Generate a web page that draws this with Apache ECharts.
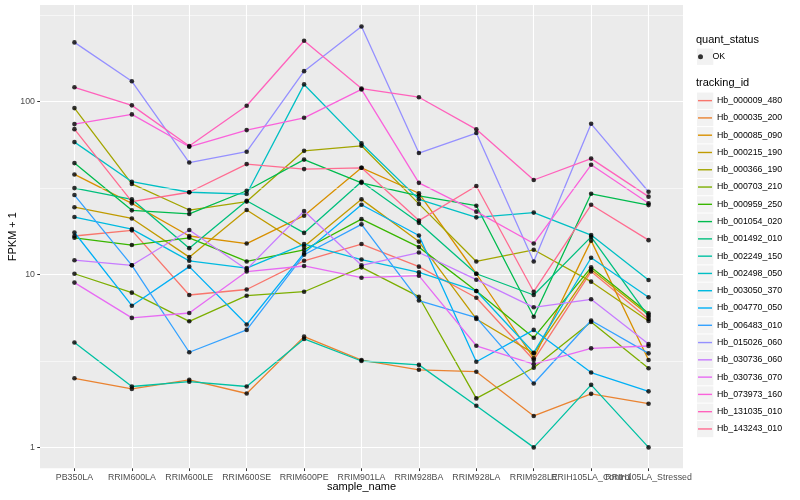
<!DOCTYPE html>
<html>
<head>
<meta charset="utf-8">
<title>FPKM + 1 by sample</title>
<script src="https://cdn.jsdelivr.net/npm/echarts@6.0.0/dist/echarts.min.js"></script>
<style>
html,body{margin:0;padding:0;background:#ffffff;}
#chart{width:800px;height:500px;}
</style>
</head>
<body>
<div id="chart"></div>
<script>
// ---------- data ----------
const categories = ['PB350LA','RRIM600LA','RRIM600LE','RRIM600SE','RRIM600PE','RRIM901LA','RRIM928BA','RRIM928LA','RRIM928LE','RRIH105LA_Control','RRIH105LA_Stressed'];
const trackingIds = ['Hb_000009_480','Hb_000035_200','Hb_000085_090','Hb_000215_190','Hb_000366_190','Hb_000703_210','Hb_000959_250','Hb_001054_020','Hb_001492_010','Hb_002249_150','Hb_002498_050','Hb_003050_370','Hb_004770_050','Hb_006483_010','Hb_015026_060','Hb_030736_060','Hb_030736_070','Hb_073973_160','Hb_131035_010','Hb_143243_010'];
const seriesColors = ['#F8766D','#EA8331','#D89000','#C09B00','#A3A500','#7CAE00','#39B600','#00BB4E','#00BF7D','#00C1A3','#00BFC4','#00BAE0','#00B0F6','#35A2FF','#9590FF','#C77CFF','#E76BF3','#FA62DB','#FF62BC','#FF6C91'];

const Hb_000009_480 = [16.7, 18.0, 7.61, 8.19, 12.0, 15.0, 11.1, 7.34, 3.2, 10.4, 5.53];
const Hb_000035_200 = [2.51, 2.18, 2.46, 2.05, 4.37, 3.2, 2.81, 2.74, 1.52, 2.04, 1.79];
const Hb_000085_090 = [37.9, 25.8, 16.7, 15.1, 21.9, 41.4, 29.5, 10.1, 3.28, 15.7, 3.2];
const Hb_000215_190 = [24.5, 21.1, 12.6, 23.6, 14.5, 27.2, 15.5, 5.53, 3.5, 10.7, 5.83];
const Hb_000366_190 = [91.7, 33.4, 23.6, 26.4, 51.9, 55.5, 25.6, 11.9, 13.9, 9.09, 5.38];
const Hb_000703_210 = [10.1, 7.85, 5.36, 7.54, 7.95, 11.0, 7.44, 1.92, 2.89, 5.31, 2.87];
const Hb_000959_250 = [16.3, 14.8, 16.3, 11.9, 13.9, 20.9, 14.4, 8.03, 4.31, 11.0, 5.97];
const Hb_001054_020 = [44.1, 23.5, 22.4, 30.5, 46.2, 33.9, 28.5, 25.0, 5.7, 29.3, 25.2];
const Hb_001492_010 = [31.6, 27.2, 14.2, 26.7, 17.4, 34.4, 19.9, 10.1, 7.61, 16.5, 5.7];
const Hb_002249_150 = [4.04, 2.25, 2.4, 2.25, 4.24, 3.16, 3.0, 1.74, 1.0, 2.3, 1.0];
const Hb_002498_050 = [58.3, 34.4, 29.9, 29.2, 125.7, 57.3, 27.2, 21.4, 22.8, 16.9, 9.29];
const Hb_003050_370 = [21.5, 18.3, 12.0, 10.9, 15.0, 12.2, 10.3, 8.03, 3.53, 12.5, 7.38];
const Hb_004770_050 = [17.5, 6.6, 11.1, 5.14, 13.3, 25.3, 16.8, 3.13, 4.78, 2.71, 2.11];
const Hb_006483_010 = [28.8, 11.3, 3.55, 4.78, 13.0, 19.5, 7.07, 5.63, 2.34, 5.42, 3.5];
const Hb_015026_060 = [220, 131, 44.4, 51.3, 150, 272, 50.4, 65.8, 11.9, 74.4, 30.1];
const Hb_030736_060 = [12.1, 11.3, 18.1, 10.7, 23.3, 11.3, 13.4, 9.33, 6.46, 7.19, 3.96];
const Hb_030736_070 = [8.98, 5.61, 5.99, 10.4, 11.2, 9.58, 9.85, 3.87, 3.03, 3.74, 3.86];
const Hb_073973_160 = [74.1, 84.3, 54.8, 68.4, 80.6, 117.6, 33.9, 23.1, 15.1, 43.1, 25.8];
const Hb_131035_010 = [121, 95.1, 55.3, 94.6, 225, 119, 106, 69.1, 35.2, 46.8, 28.2];
const Hb_143243_010 = [69.3, 26.4, 29.9, 43.5, 40.7, 41.4, 20.5, 32.5, 7.95, 25.3, 15.8];

const yTicks = [1, 10, 100];
const yMinorBreaks = [3.1623, 31.623, 316.23];
const quantStatus = ['OK'];

const seriesValues = [Hb_000009_480, Hb_000035_200, Hb_000085_090, Hb_000215_190, Hb_000366_190,
  Hb_000703_210, Hb_000959_250, Hb_001054_020, Hb_001492_010, Hb_002249_150, Hb_002498_050,
  Hb_003050_370, Hb_004770_050, Hb_006483_010, Hb_015026_060, Hb_030736_060, Hb_030736_070,
  Hb_073973_160, Hb_131035_010, Hb_143243_010];

// ---------- chart ----------
const FONT = '"Liberation Sans", Arial, Helvetica, sans-serif';
const xPositions = categories.map((c, i) => i + 1);
// labels split over two coincident axes so that overlapping labels are all drawn (as in ggplot)
const xOddPositions = xPositions.filter((p, i) => i % 2 === 0);
const xEvenPositions = xPositions.filter((p, i) => i % 2 === 1);

const lineSeries = trackingIds.map((id, k) => ({
  name: id,
  type: 'line',
  xAxisIndex: 0,
  data: seriesValues[k].map((v, i) => [xPositions[i], v]),
  symbol: 'none',
  showSymbol: false,
  lineStyle: { color: seriesColors[k], width: 1.3 },
  itemStyle: { color: seriesColors[k] },
  emphasis: { disabled: true },
  silent: true,
  z: 3
}));

const pointData = [];
seriesValues.forEach(vals => vals.forEach((v, i) => pointData.push([xPositions[i], v])));

const pointSeries = {
  name: quantStatus[0],
  type: 'scatter',
  xAxisIndex: 0,
  data: pointData,
  symbol: 'circle',
  symbolSize: 4.6,
  itemStyle: { color: '#000000' },
  emphasis: { disabled: true },
  silent: true,
  z: 5
};

const minorGridSeries = {
  name: 'minor-grid',
  type: 'line',
  xAxisIndex: 0,
  data: [],
  silent: true,
  z: 1,
  markLine: {
    silent: true,
    symbol: ['none', 'none'],
    label: { show: false },
    lineStyle: { color: '#ffffff', width: 0.55, type: 'solid' },
    emphasis: { disabled: true },
    animation: false,
    data: yMinorBreaks.map(v => ({ yAxis: v }))
  }
};

// legend key backgrounds (ggplot grey95 boxes)
const keyPitch = 17.28;
const keyBoxes = [];
keyBoxes.push({ type: 'rect', silent: true, z: -1,
  shape: { x: 697, y: 56.7 - 8.14, width: 16.3, height: 16.3 },
  style: { fill: '#F2F2F2' } });
trackingIds.forEach((id, k) => {
  keyBoxes.push({ type: 'rect', silent: true, z: -1,
    shape: { x: 697, y: 100.7 + k * keyPitch - 8.14, width: 16.3, height: 16.3 },
    style: { fill: '#F2F2F2' } });
});

const xLabelStyle = { show: true, margin: 5, fontSize: 8.8, color: '#4D4D4D', fontFamily: FONT,
  hideOverlap: false, showMinLabel: true, showMaxLabel: true,
  formatter: v => categories[Math.round(v) - 1] || '' };

const option = {
  animation: false,
  backgroundColor: '#ffffff',
  textStyle: { fontFamily: FONT },
  title: [
    { text: 'quant_status', left: 696, top: 33, padding: 0,
      textStyle: { fontSize: 11, fontWeight: 'normal', color: '#000000', fontFamily: FONT, lineHeight: 13 } },
    { text: 'tracking_id', left: 696, top: 76.6, padding: 0,
      textStyle: { fontSize: 11, fontWeight: 'normal', color: '#000000', fontFamily: FONT, lineHeight: 13 } }
  ],
  legend: [
    { data: quantStatus, orient: 'vertical', left: 698, top: 48, padding: 0, itemGap: 0,
      itemWidth: 14, itemHeight: 5, icon: 'circle', selectedMode: false,
      textStyle: { fontSize: 8.8, color: '#000000', fontFamily: FONT, lineHeight: keyPitch } },
    { data: trackingIds, orient: 'vertical', left: 698, top: 92, padding: 0, itemGap: 0,
      itemWidth: 14, itemHeight: 1.4, icon: 'rect', selectedMode: false,
      textStyle: { fontSize: 8.8, color: '#000000', fontFamily: FONT, lineHeight: keyPitch } }
  ],
  graphic: keyBoxes,
  grid: {
    left: 40, right: 117, top: 5, bottom: 31.7,
    show: true, backgroundColor: '#EBEBEB', borderWidth: 0,
    containLabel: false, outerBoundsMode: 'none'
  },
  xAxis: [
    {
      type: 'value', position: 'bottom', offset: 0,
      min: 0.4, max: 11.6,
      axisLine: { show: false },
      axisTick: { show: true, length: 2.75, customValues: xPositions, lineStyle: { color: '#333333', width: 1 } },
      axisLabel: Object.assign({ customValues: xOddPositions }, xLabelStyle),
      splitLine: { show: true, lineStyle: { color: '#ffffff', width: 1.1 } },
      minorSplitLine: { show: false },
      name: 'sample_name', nameLocation: 'middle', nameGap: 13.5, nameMoveOverlap: false,
      nameTextStyle: { fontSize: 11, color: '#000000', fontFamily: FONT }
    },
    {
      type: 'value', position: 'bottom', offset: 0,
      min: 0.4, max: 11.6,
      axisLine: { show: false },
      axisTick: { show: false },
      axisLabel: Object.assign({ customValues: xEvenPositions }, xLabelStyle),
      splitLine: { show: false },
      minorSplitLine: { show: false }
    }
  ],
  yAxis: {
    type: 'log', logBase: 10,
    min: 0.757, max: 362,
    axisLine: { show: false },
    axisTick: { show: true, length: 2.75, customValues: yTicks, lineStyle: { color: '#333333', width: 1 } },
    axisLabel: { show: true, customValues: yTicks, margin: 5, fontSize: 8.8, color: '#4D4D4D', fontFamily: FONT,
      showMinLabel: true, showMaxLabel: true },
    splitLine: { show: true, lineStyle: { color: '#ffffff', width: 1.1 } },
    minorSplitLine: { show: false },
    name: 'FPKM + 1', nameLocation: 'middle', nameGap: 22, nameMoveOverlap: false,
    nameTextStyle: { fontSize: 11, color: '#000000', fontFamily: FONT }
  },
  series: [minorGridSeries].concat(lineSeries, [pointSeries])
};

const chart = echarts.init(document.getElementById('chart'), null, { renderer: 'canvas', width: 800, height: 500 });
chart.setOption(option);
</script>
</body>
</html>
